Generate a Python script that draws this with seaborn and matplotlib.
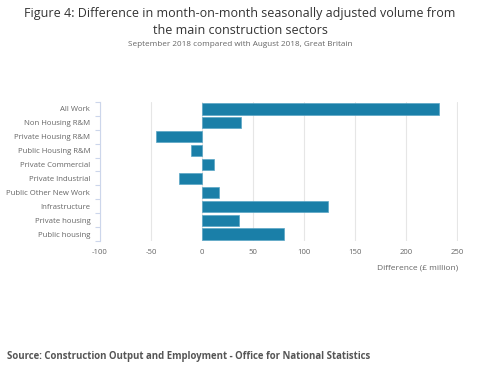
import matplotlib
matplotlib.use("Agg")
import matplotlib.pyplot as plt
import seaborn as sns
import pandas as pd

sectors = ["All Work", "Non Housing R&M", "Private Housing R&M", "Public Housing R&M",
           "Private Commercial", "Private Industrial", "Public Other New Work",
           "Infrastructure", "Private housing", "Public housing"]
difference = [232, 38, -45, -11, 12, -23, 17, 124, 36, 80]
xticks = [-100, -50, 0, 50, 100, 150, 200, 250]


def main():
    sns.set_style("white")
    plt.rcParams["font.family"] = ["Open Sans", "DejaVu Sans"]

    df = pd.DataFrame({"sector": sectors, "difference": difference})

    fig = plt.figure(figsize=(4.8, 3.76), dpi=100)
    ax = fig.add_axes([100 / 480, 1 - 241 / 376, 358 / 480, 139 / 376])

    sns.barplot(data=df, x="difference", y="sector", orient="h", color="#1a7fa8",
                saturation=1, width=0.8, edgecolor="#5aa6c6", linewidth=0.5, ax=ax)

    ax.set_xlim(-100, 251)
    ax.set_xticks(xticks)
    ax.set_xticklabels([str(t) for t in xticks])
    ax.grid(axis="x", color="#e6e6e6", linewidth=0.8)
    ax.set_axisbelow(True)
    for s in ["top", "right", "bottom"]:
        ax.spines[s].set_visible(False)
    ax.spines["left"].set_color("#ccd6eb")
    ax.spines["left"].set_linewidth(0.8)

    ax.set_yticks([i + 0.5 for i in range(-1, len(sectors))], minor=True)
    ax.tick_params(axis="y", which="minor", length=3.6, color="#ccd6eb", width=0.8, left=True)
    ax.tick_params(axis="y", which="major", length=0, labelsize=5.6, labelcolor="#666666", pad=7)
    ax.tick_params(axis="x", length=0, labelsize=5.6, labelcolor="#666666", pad=6)

    ax.set_ylabel("")
    ax.set_xlabel("Difference (£ million)", fontsize=6.0, color="#666666")
    ax.xaxis.set_label_coords(1.0, -0.17)
    ax.xaxis.label.set_horizontalalignment("right")

    fig.text(0.5, 1 - 22 / 376, "Figure 4: Difference in month-on-month seasonally adjusted volume from\nthe main construction sectors",
             ha="center", va="center", fontsize=9.0, color="#333333", linespacing=1.35)
    fig.text(0.5, 1 - 45 / 376, "September 2018 compared with August 2018, Great Britain",
             ha="center", va="center", fontsize=5.85, color="#666666")
    fig.text(7 / 480, 1 - 357 / 376, "Source: Construction Output and Employment - Office for National Statistics",
             ha="left", va="center", fontsize=6.9, fontweight="bold", color="#555555")

    fig.savefig("out.png", dpi=100)


if __name__ == "__main__":
    main()
